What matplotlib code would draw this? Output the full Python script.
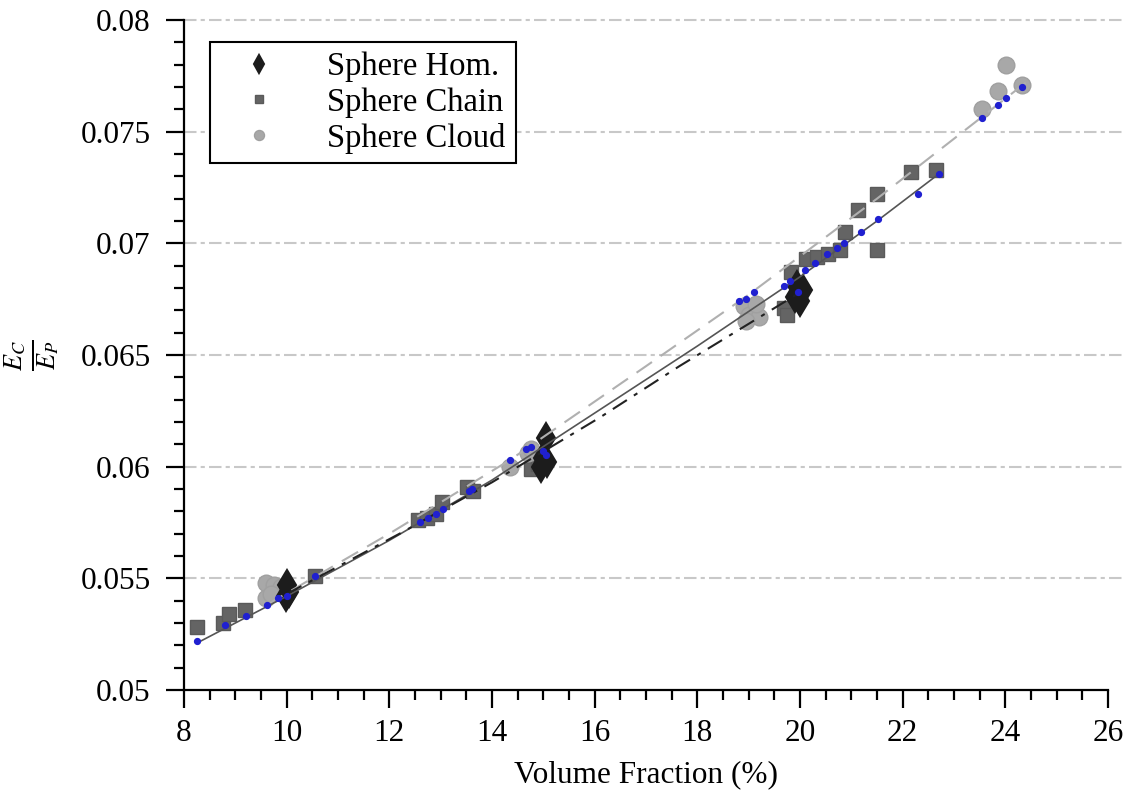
import matplotlib
matplotlib.use("Agg")
import matplotlib.pyplot as plt
from matplotlib import ticker

plt.rcParams['font.family'] = ['Liberation Serif', 'DejaVu Serif']
plt.rcParams['mathtext.fontset'] = 'stix'

# data
hom_x = [10.0, 10.05, 9.98, 15.05, 15.0, 14.95, 15.08, 19.95, 20.05, 19.9, 20.0]
hom_y = [0.0547, 0.0544, 0.0542, 0.0613, 0.0604, 0.0600, 0.0602, 0.0681, 0.0679, 0.0676, 0.0674]

chain_x = [8.25, 8.75, 8.88, 9.18, 10.56, 12.55, 12.74, 12.9, 13.02, 13.52, 13.62,
           14.75, 14.9, 19.68, 19.74, 19.82, 20.11, 20.33, 20.54, 20.77, 20.87,
           21.12, 21.49, 21.49, 22.17, 22.64]
chain_y = [0.0528, 0.0530, 0.0534, 0.0536, 0.0551, 0.0576, 0.0577, 0.0579, 0.0584, 0.0591, 0.0589,
           0.0599, 0.0601, 0.0671, 0.0668, 0.0687, 0.0693, 0.0694, 0.0695, 0.0697, 0.0705,
           0.0715, 0.0722, 0.0697, 0.0732, 0.0733]

cloud_x = [9.6, 9.75, 9.88, 9.6, 9.7, 14.35, 14.7, 14.75, 18.9, 19.0, 19.2, 18.95, 19.15,
           23.54, 23.86, 24.02, 24.32]
cloud_y = [0.0548, 0.0547, 0.0546, 0.0541, 0.0543, 0.0600, 0.0606, 0.0608, 0.0672, 0.0668, 0.0667, 0.0665, 0.0673,
           0.0760, 0.0768, 0.0780, 0.0771]

model_x = [8.25, 8.8, 9.21, 9.61, 9.83, 10.0, 10.56, 12.6, 12.75, 12.9, 13.05, 13.55, 13.6,
           14.35, 14.67, 14.75, 14.99, 15.05, 18.81, 18.94, 19.1, 19.68, 19.81, 19.97,
           20.1, 20.29, 20.53, 20.72, 20.85, 21.18, 21.52, 22.3, 22.7,
           23.54, 23.85, 24.02, 24.32]
model_y = [0.0522, 0.0529, 0.0533, 0.0538, 0.0541, 0.0542, 0.0551, 0.0575, 0.0577, 0.0579, 0.0581, 0.0589, 0.0590,
           0.0603, 0.0608, 0.0609, 0.0607, 0.0605, 0.0674, 0.0675, 0.0678, 0.0681, 0.0683, 0.0678,
           0.0688, 0.0691, 0.0695, 0.0698, 0.0700, 0.0705, 0.0711, 0.0722, 0.0731,
           0.0756, 0.0762, 0.0765, 0.0770]

# fit curves
chain_fit_x = [8.25, 10, 12, 14, 16, 18, 20, 21.5, 22.7]
chain_fit_y = [0.0521, 0.0542, 0.0567, 0.0594, 0.0624, 0.0654, 0.0685, 0.0710, 0.0731]
cloud_fit_x = [9.6, 12, 14.35, 17, 19, 21.5, 23.4, 24.4]
cloud_fit_y = [0.0538, 0.0570, 0.0603, 0.0645, 0.0677, 0.0720, 0.0754, 0.0772]
hom_fit_x = [10, 12.2, 14, 16.1, 17.65, 20]
hom_fit_y = [0.0543, 0.0570, 0.0593, 0.0622, 0.0645, 0.0678]

fig = plt.figure(figsize=(11.25, 7.9), dpi=100)
ax = fig.add_axes([0.1636, 0.1266, 0.8213, 0.8481])

for v in [0.055, 0.06, 0.065, 0.07, 0.075, 0.08]:
    ax.plot([8, 26.5], [v, v], color='#c8c8c8', lw=1.5, dashes=[6, 2, 2, 2], zorder=0, clip_on=False)

ax.plot(chain_x, chain_y, 's', color='#646464', ms=10.5, mec='#5a5a5a', label='Sphere Chain', zorder=2)
ax.plot(cloud_x, cloud_y, 'o', color='#a8a8a8', ms=12, mec='#a0a0a0', label='Sphere Cloud', zorder=2)
ax.plot(hom_x, hom_y, 'd', color='#1c1c1c', ms=15, mew=1.5, label='Sphere Hom.', zorder=3)

ax.plot(cloud_fit_x, cloud_fit_y, color='#b0b0b0', lw=1.5, dashes=[9, 5], zorder=4)
ax.plot(chain_fit_x, chain_fit_y, color='#555555', lw=1.2, zorder=4)
ax.plot(hom_fit_x, hom_fit_y, color='#222222', lw=1.5, dashes=[8, 4, 2, 4], zorder=4)

ax.plot(model_x, model_y, 'o', color='#2020d0', ms=4.2, zorder=5)

ax.set_xlim(8, 26)
ax.set_ylim(0.05, 0.08)
ax.xaxis.set_major_locator(ticker.MultipleLocator(2))
ax.xaxis.set_minor_locator(ticker.MultipleLocator(0.5))
ax.yaxis.set_major_locator(ticker.MultipleLocator(0.005))
ax.yaxis.set_minor_locator(ticker.MultipleLocator(0.001))
ax.yaxis.set_major_formatter(ticker.FuncFormatter(lambda v, p: f'{v:g}'))

for s in ['top', 'right']:
    ax.spines[s].set_visible(False)
for s in ['left', 'bottom']:
    ax.spines[s].set_linewidth(1.6)
ax.tick_params(which='major', length=13, width=1.6, labelsize=22.5, direction='out')
ax.tick_params(axis='y', which='major', pad=11)
ax.tick_params(axis='x', which='major', pad=8)
ax.tick_params(which='minor', length=7, width=1.6, direction='out')

ax.set_xlabel('Volume Fraction (%)', fontsize=22.5)
ax.xaxis.set_label_coords(0.5, -0.105)
fig.text(32 / 1125, 1 - 355 / 790, r'$\frac{E_C}{E_P}$', fontsize=27, rotation=90,
         ha='center', va='center')

h, l = ax.get_legend_handles_labels()
order = [2, 0, 1]
leg = ax.legend([h[i] for i in order], [l[i] for i in order], loc='upper left',
                bbox_to_anchor=(0.028, 0.967), borderaxespad=0, fontsize=23.5, markerscale=0.6,
                fancybox=False, framealpha=1, edgecolor='black',
                handlelength=2.4, handletextpad=0.9, borderpad=0.3, labelspacing=0.15)
leg.get_frame().set_linewidth(1.5)

fig.savefig('out.png', dpi=100)
